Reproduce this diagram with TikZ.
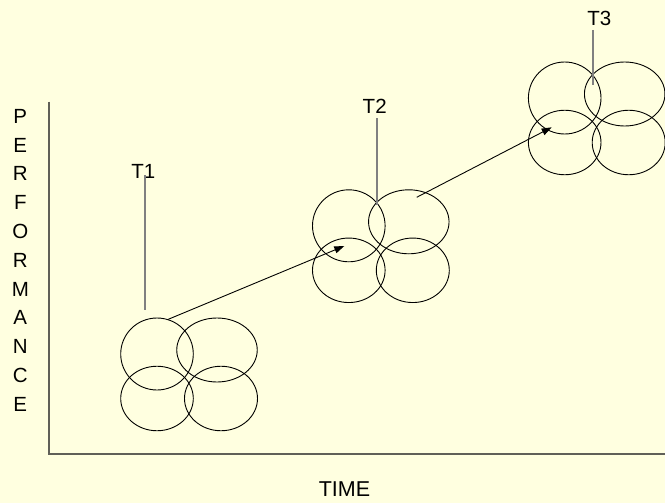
\documentclass[tikz,border=0pt]{standalone}
\usepackage{fontspec}
\setmainfont{Liberation Sans}
\usetikzlibrary{shapes.geometric,arrows.meta}

\definecolor{paper}{RGB}{255,255,224}
\definecolor{axisgray}{RGB}{96,96,88}
\definecolor{stemgray}{RGB}{128,128,128}

\tikzset{
  ring/.style={ellipse, draw=black, line width=0.9pt, inner sep=0pt},
  stem/.style={draw=stemgray, line width=1.6pt},
  axis/.style={draw=axisgray, line width=1.3pt},
  trend/.style={draw=black, line width=0.9pt, -{Triangle[length=10pt,width=7pt]}},
  tag/.style={font=\fontsize{20.5}{20.5}\selectfont, inner sep=0pt, anchor=base},
}

% four overlapping rings around a top-left centre #1
\newcommand{\clover}[1]{
  \node[ring, minimum width=72.6pt, minimum height=72pt] (#1a) at (#1) {};
  \node[ring, minimum width=80.5pt, minimum height=64pt] (#1b) at ([shift={(60,-4)}]#1) {};
  \node[ring, minimum width=72.6pt, minimum height=64.5pt] (#1c) at ([shift={(0,44.5)}]#1) {};
  \node[ring, minimum width=73pt, minimum height=64.5pt] (#1d) at ([shift={(64,44.5)}]#1) {};
}

\begin{document}
\begin{tikzpicture}[x=1pt, y=-1pt]
    \fill[paper] (0,0) rectangle (665,503);
    \useasboundingbox (0,0) rectangle (665,503);

    % axes
    \coordinate (ytop) at (49,101.7);
    \coordinate (origin) at (49,454);
    \coordinate (xend) at (665,454);
    \draw[axis] (ytop) -- (origin) -- (xend);

    \node[tag, font=\fontsize{21.5}{21.5}\selectfont] (time) at (344.5,496.7) {TIME};
    \foreach \letter [count=\i from 0] in {P,E,R,F,O,R,M,A,N,C,E}
        \node[tag] (perf\i) at (20.3,123.3+28.8*\i) {\letter};

    % the three groups
    \coordinate (c1) at (157,354);
    \coordinate (c2) at (348.8,225.8);
    \coordinate (c3) at (564.7,98);
    \clover{c1}
    \clover{c2}
    \clover{c3}

    % labels with their stems
    \node[tag] (T1) at (143.3,178.3) {T1};
    \node[tag] (T2) at (374.7,113.3) {T2};
    \node[tag] (T3) at (599.3,26) {T3};
    \coordinate (t1head) at (145,175);
    \coordinate (t1foot) at (145,310);
    \coordinate (t2head) at (376.7,118.3);
    \coordinate (t2foot) at (376.7,205);
    \coordinate (t3head) at (592.7,30);
    \coordinate (t3foot) at (592.7,85);
    \draw[stem] (t1head) -- (t1foot);
    \draw[stem] (t2head) -- (t2foot);
    \draw[stem] (t3head) -- (t3foot);

    % growth arrows
    \coordinate (a1end) at (344.3,246);
    \coordinate (a2start) at (416.7,197.3);
    \coordinate (a2end) at (551.7,127.3);
    \draw[trend] (c1a.72) -- (a1end);
    \draw[trend] (a2start) -- (a2end);
\end{tikzpicture}
\end{document}
